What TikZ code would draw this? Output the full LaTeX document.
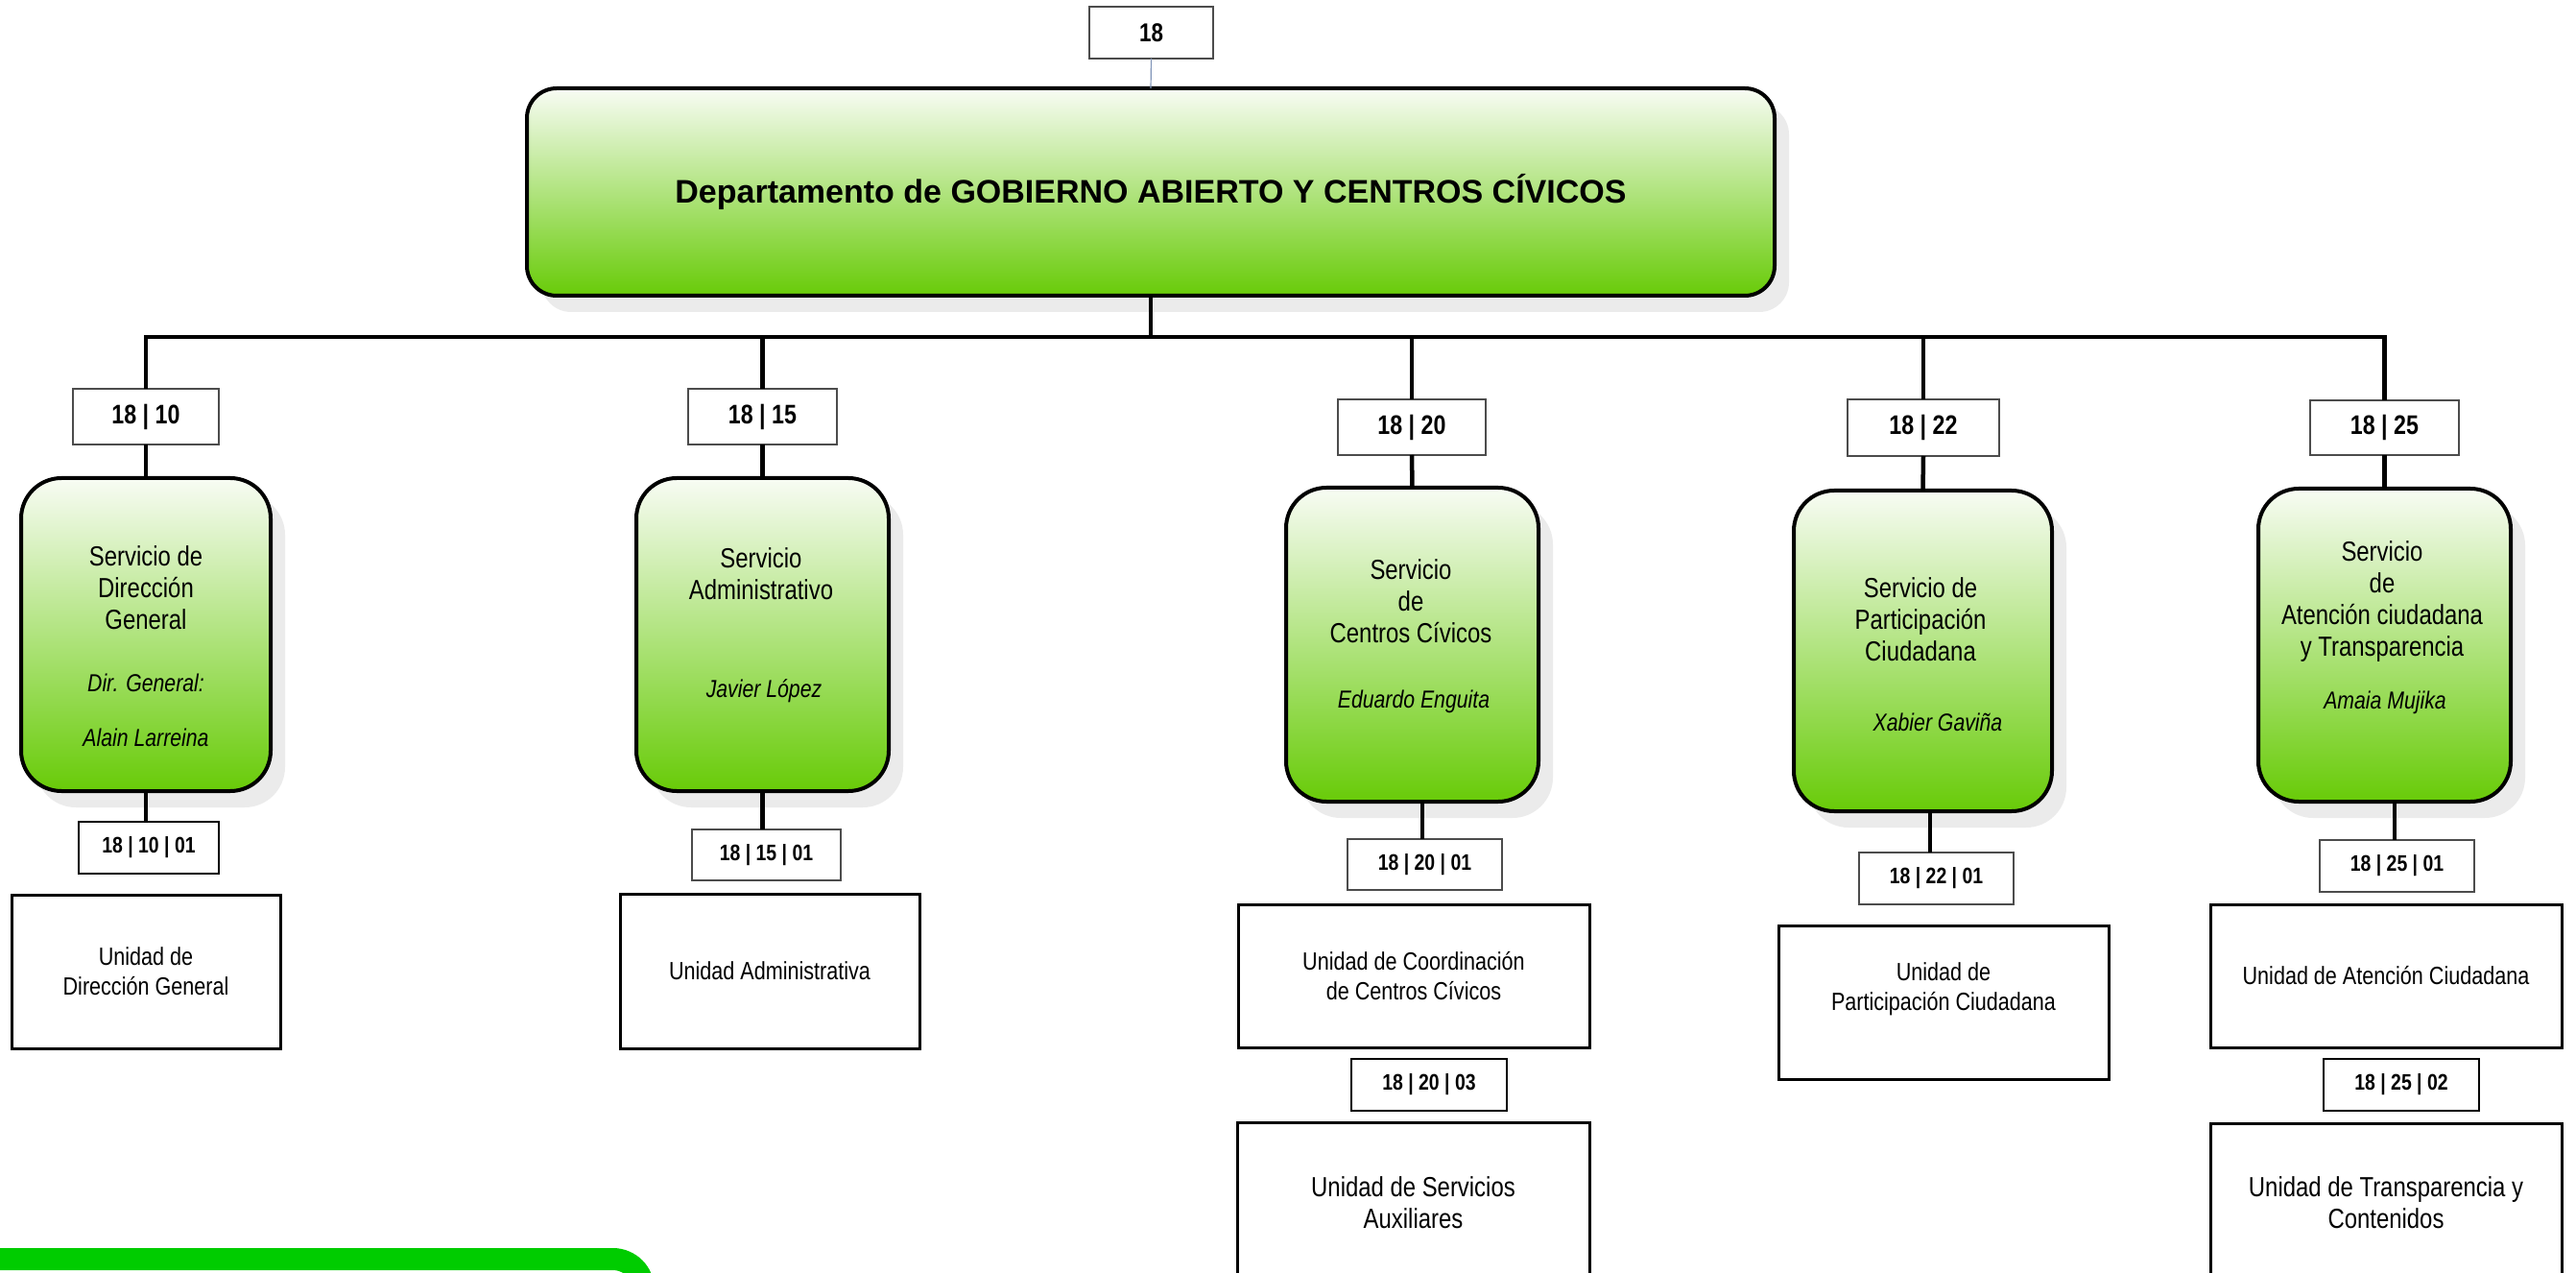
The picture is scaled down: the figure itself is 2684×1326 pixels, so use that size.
\documentclass[tikz,border=0pt]{standalone}
\usepackage{fontspec}
\setmainfont{Liberation Sans}
\newfontfamily\nar{Liberation Sans}[FakeStretch=0.83]
\usetikzlibrary{shadows}
\definecolor{svcTop}{RGB}{248,252,244}
\definecolor{svcBot}{RGB}{104,203,8}
\definecolor{barGreen}{RGB}{0,204,0}
\definecolor{shadowGray}{RGB}{235,235,235}
\definecolor{linkBlue}{RGB}{130,150,185}
\begin{document}
\begin{tikzpicture}[x=0.5pt,y=-0.5pt,
  conn/.style={line width=2.25pt, draw=black},
  greenbox/.style={draw=black, line width=2pt, top color=svcTop, bottom color=svcBot,
    drop shadow={shadow xshift=7.5pt, shadow yshift=-8.5pt, fill=shadowGray, opacity=1},
    inner sep=0pt, outer sep=0pt},
  svcbox/.style={greenbox, rounded corners=21pt},
  mainbox/.style={greenbox, rounded corners=15.5pt, font=\bfseries\fontsize{17pt}{20pt}\selectfont},
  codebox/.style={draw=black!70, line width=0.7pt, fill=white, inner sep=0pt, outer sep=0pt,
    font=\nar\bfseries\fontsize{14pt}{16pt}\selectfont},
  subcode/.style={codebox, font=\nar\bfseries\fontsize{11.7pt}{14pt}\selectfont},
  thickcode/.style={draw=black, line width=1.4pt},
  unitbox/.style={draw=black, line width=1.5pt, fill=white, align=center, inner sep=0pt, outer sep=0pt,
    font=\nar\fontsize{13pt}{15.5pt}\selectfont},
  bigunit/.style={unitbox, font=\nar\fontsize{14.4pt}{16.5pt}\selectfont},
  svctext/.style={align=center, inner sep=0pt, font=\nar\fontsize{14.4pt}{16.5pt}\selectfont},
  nametext/.style={align=center, inner sep=0pt, font=\nar\itshape\fontsize{12.8pt}{15pt}\selectfont},
]
\useasboundingbox (0,0) rectangle (2684,1326);
\clip (0,0) rectangle (2684,1326);

% green bar at the bottom left
\draw[barGreen, line width=11.5pt, rounded corners=16pt] (-100,1311.5) -- (670.5,1311.5) -- (670.5,1700);

% top code and main department box
\node[codebox, font=\nar\bfseries\fontsize{13.5pt}{16pt}\selectfont, minimum width=64.5pt, minimum height=27pt] (top18) at (1199.5,34) {18};
\node[mainbox, minimum width=650pt, minimum height=108pt] (main) at (1199,200) {Departamento de GOBIERNO ABIERTO Y CENTROS CÍVICOS};

% first level codes
\node[codebox, minimum width=76pt, minimum height=29pt] (l1) at (152,434) {18 | 10};
\node[codebox, minimum width=77.5pt, minimum height=29pt] (l2) at (794.5,434) {18 | 15};
\node[codebox, minimum width=77pt, minimum height=29pt] (l3) at (1471,445) {18 | 20};
\node[codebox, minimum width=79pt, minimum height=29.5pt] (l4) at (2004,445.5) {18 | 22};
\node[codebox, minimum width=77.5pt, minimum height=28.5pt] (l5) at (2484.5,445.5) {18 | 25};

% services
\node[svcbox, minimum width=130pt, minimum height=163pt] (s1) at (152,661) {};
\node[svcbox, minimum width=131.5pt, minimum height=163pt] (s2) at (794.5,661) {};
\node[svcbox, minimum width=131.5pt, minimum height=163.5pt] (s3) at (1471.5,671.5) {};
\node[svcbox, minimum width=134.5pt, minimum height=167pt] (s4) at (2003.5,678) {};
\node[svcbox, minimum width=131.5pt, minimum height=163pt] (s5) at (2484.5,672) {};

\node[svctext] (s1t) at (152,612) {Servicio de\\Dirección\\General};
\node[nametext] (s1n) at (152,740) {Dir. General:\\[13.5pt]Alain Larreina};
\node[svctext] (s2t) at (793,598) {Servicio\\Administrativo};
\node[nametext] (s2n) at (796,720) {Javier López};
\node[svctext] (s3t) at (1470,626) {Servicio\\de\\Centros Cívicos};
\node[nametext] (s3n) at (1473,731) {Eduardo Enguita};
\node[svctext] (s4t) at (2001,645.5) {Servicio de\\Participación\\Ciudadana};
\node[nametext] (s4n) at (2019,752) {Xabier Gaviña};
\node[svctext] (s5t) at (2482,626.5) {Servicio\\de\\Atención ciudadana\\y Transparencia};
\node[nametext] (s5n) at (2485,732) {Amaia Mujika};

% second level codes
\node[subcode, thickcode, minimum width=73pt, minimum height=27pt] (a1) at (155,883) {18 | 10 | 01};
\node[subcode, minimum width=77.5pt, minimum height=26.5pt] (a2) at (798.5,890.5) {18 | 15 | 01};
\node[subcode, minimum width=80.5pt, minimum height=26.5pt] (a3) at (1484.5,900.5) {18 | 20 | 01};
\node[subcode, minimum width=80.5pt, minimum height=27pt] (a4) at (2017.5,915) {18 | 22 | 01};
\node[subcode, minimum width=80.5pt, minimum height=27pt] (a5) at (2497.5,902) {18 | 25 | 01};
\node[subcode, thickcode, minimum width=81pt, minimum height=27pt] (b3) at (1489,1130) {18 | 20 | 03};
\node[subcode, thickcode, minimum width=81pt, minimum height=27pt] (b5) at (2502,1130) {18 | 25 | 02};

% units
\node[unitbox, minimum width=140pt, minimum height=80pt] (u1) at (152,1012) {Unidad de\\Dirección General};
\node[unitbox, minimum width=156pt, minimum height=80.5pt] (u2) at (802,1011.5) {Unidad Administrativa};
\node[unitbox, minimum width=183pt, minimum height=74.5pt] (u3) at (1473,1016.5) {Unidad de Coordinación\\de Centros Cívicos};
\node[unitbox, minimum width=172pt, minimum height=80pt, text depth=16pt] (u4) at (2025,1044) {Unidad de\\Participación Ciudadana};
\node[unitbox, minimum width=183pt, minimum height=74.5pt] (u5) at (2486,1016.5) {Unidad de Atención Ciudadana};
\node[bigunit, minimum width=183.5pt, minimum height=83.5pt] (u6) at (1472.5,1252.5) {Unidad de Servicios\\Auxiliares};
\node[bigunit, minimum width=183pt, minimum height=83pt] (u7) at (2486,1253) {Unidad de Transparencia y\\Contenidos};

% connectors
\coordinate (bus) at (0,351);
\draw[linkBlue, line width=0.6pt] (top18.south) -- (main.north);
\draw[conn] (main.south) -- (main.south |- bus);
\draw[conn] (l1.north) -- (l1.north |- bus) -- (l5.north |- bus) -- (l5.north);
\draw[conn] (l2.north |- bus) -- (l2.north);
\draw[conn] (l3.north |- bus) -- (l3.north);
\draw[conn] (l4.north |- bus) -- (l4.north);
\draw[conn] (l1.south) -- (s1.north);
\draw[conn] (l2.south) -- (s2.north);
\draw[conn] (l3.south) -- (s3.north);
\draw[conn] (l4.south) -- (s4.north);
\draw[conn] (l5.south) -- (s5.north);
\draw[conn] (s1.south) -- (s1.south |- a1.north);
\draw[conn] (s2.south) -- (s2.south |- a2.north);
\draw[conn] ([xshift=-1.25pt]a3.north |- s3.south) -- ([xshift=-1.25pt]a3.north);
\draw[conn] ([xshift=-3.25pt]a4.north |- s4.south) -- ([xshift=-3.25pt]a4.north);
\draw[conn] ([xshift=-1.25pt]a5.north |- s5.south) -- ([xshift=-1.25pt]a5.north);
\end{tikzpicture}
\end{document}
